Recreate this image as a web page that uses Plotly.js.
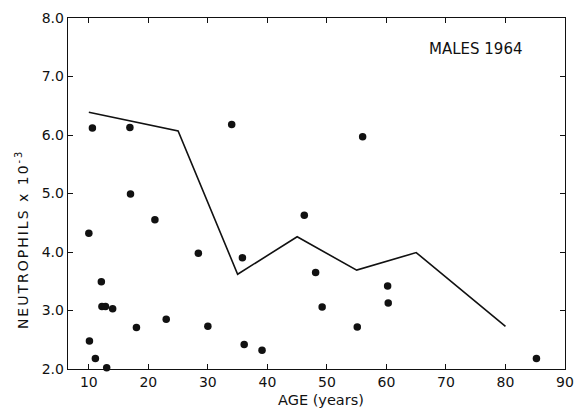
<!DOCTYPE html>
<html>
<head>
<meta charset="utf-8">
<script src="https://cdn.plot.ly/plotly-3.0.1.min.js"></script>
<style>html,body{margin:0;padding:0;background:#fff;}#chart{width:578px;height:410px;}</style>
</head>
<body>
<div id="chart"></div>
<script>
var pointAges = [10.6, 16.9, 34, 17, 21.1, 10, 28.4, 35.8, 46.2, 48.1, 49.2, 12.1, 12.2, 12.8, 14, 23, 18, 30, 10.1, 11.1, 13, 36.1, 39.1, 56, 60.2, 60.3, 55.1, 85.2];
var pointValues = [6.12, 6.13, 6.18, 4.99, 4.55, 4.32, 3.98, 3.90, 4.63, 3.65, 3.06, 3.49, 3.07, 3.07, 3.03, 2.85, 2.71, 2.73, 2.48, 2.18, 2.02, 2.42, 2.32, 5.97, 3.42, 3.13, 2.72, 2.18];
var lineAges = [10, 25, 35, 45, 55, 65, 80];
var lineValues = [6.39, 6.07, 3.62, 4.26, 3.69, 3.99, 2.73];
var xTicks = [10, 20, 30, 40, 50, 60, 70, 80, 90];
var yTicks = [2, 3, 4, 5, 6, 7, 8];

var fam = 'DejaVu Sans, Verdana, sans-serif';
var font = {family: fam, color: '#111', size: 14};

var traces = [
  {x: lineAges, y: lineValues, mode: 'lines', type: 'scatter',
   line: {color: '#111', width: 1.6}, hoverinfo: 'skip'},
  {x: pointAges, y: pointValues, mode: 'markers', type: 'scatter',
   marker: {color: '#111', size: 7.5}, cliponaxis: false}
];

var axisCommon = {
  showgrid: false, zeroline: false, showline: true, linecolor: '#111', linewidth: 1.3,
  ticks: 'inside', ticklen: 5, tickwidth: 1, tickcolor: '#111', mirror: 'ticks',
  tickfont: font
};

var layout = {
  width: 578, height: 410,
  margin: {l: 68, r: 13, t: 18, b: 41},
  paper_bgcolor: '#fff', plot_bgcolor: '#fff',
  showlegend: false,
  xaxis: Object.assign({}, axisCommon, {
    range: [6.5, 90], tickvals: xTicks, ticktext: xTicks.map(String)
  }),
  yaxis: Object.assign({}, axisCommon, {
    range: [2, 8], tickvals: yTicks, ticktext: yTicks.map(function(v){return v.toFixed(1);})
  }),
  annotations: [
    {text: 'MALES 1964', xref: 'paper', yref: 'paper', x: 0.820, y: 0.912,
     xanchor: 'center', yanchor: 'middle',
     showarrow: false, font: {family: fam, size: 15, color: '#111'}},
    {text: 'AGE (years)', xref: 'paper', yref: 'paper', x: 0.509, y: -0.088,
     xanchor: 'center', yanchor: 'middle',
     showarrow: false, font: {family: fam, size: 14.5, color: '#111'}},
    {text: 'NEUTROPHILS x 10<sup>-3</sup>', xref: 'paper', yref: 'paper', x: -0.0926, y: 0.370,
     xanchor: 'center', yanchor: 'middle', textangle: -90,
     showarrow: false, font: {family: fam, size: 14, color: '#111'}}
  ]
};

Plotly.newPlot('chart', traces, layout, {displayModeBar: false, staticPlot: true}).then(function(gd){
  var texts = gd.querySelectorAll('.annotation-text');
  texts.forEach(function(t){
    if (t.textContent.indexOf('NEUTROPHILS') >= 0) {
      t.style.letterSpacing = '2px';
    }
  });
});
</script>
</body>
</html>
